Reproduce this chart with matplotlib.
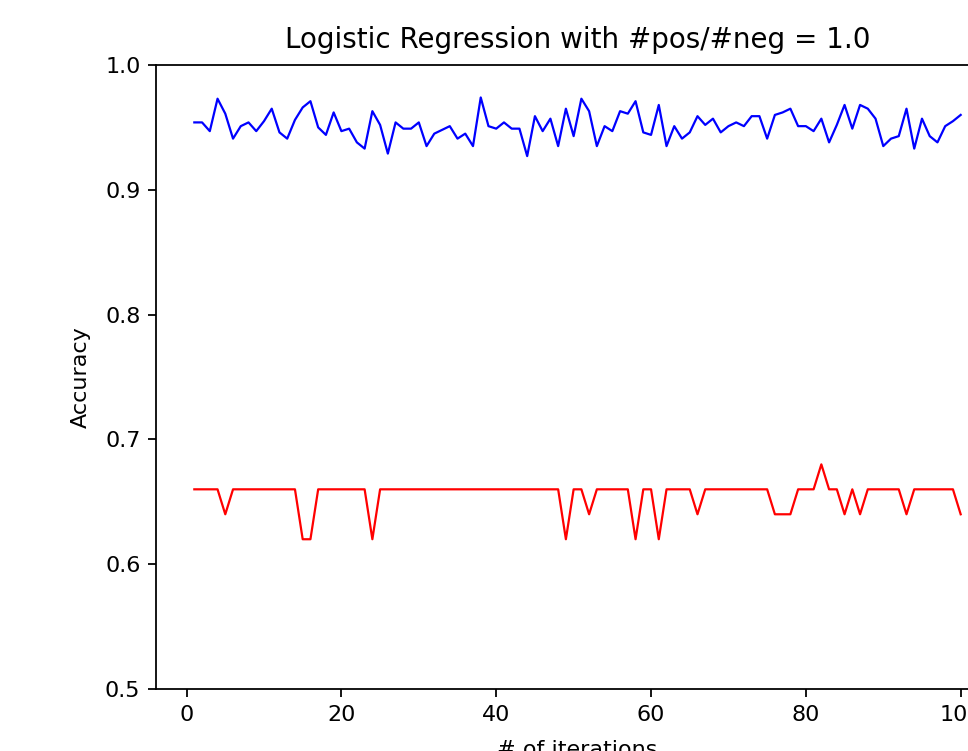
import matplotlib
matplotlib.use('Agg')
import matplotlib.pyplot as plt
import numpy as np

# iteration index
ITERATIONS = list(range(1, 101))

# upper curve (blue)
ACC_BLUE = [
    0.954, 0.954, 0.947, 0.973, 0.961, 0.941, 0.951, 0.954, 0.947, 0.955,
    0.965, 0.946, 0.941, 0.956, 0.966, 0.971, 0.950, 0.944, 0.962, 0.947,
    0.949, 0.938, 0.933, 0.963, 0.952, 0.929, 0.954, 0.949, 0.949, 0.954,
    0.935, 0.945, 0.948, 0.951, 0.941, 0.945, 0.935, 0.974, 0.951, 0.949,
    0.954, 0.949, 0.949, 0.927, 0.959, 0.947, 0.957, 0.935, 0.965, 0.943,
    0.973, 0.963, 0.935, 0.951, 0.947, 0.963, 0.961, 0.971, 0.946, 0.944,
    0.968, 0.935, 0.951, 0.941, 0.946, 0.959, 0.952, 0.957, 0.946, 0.951,
    0.954, 0.951, 0.959, 0.959, 0.941, 0.960, 0.962, 0.965, 0.951, 0.951,
    0.947, 0.957, 0.938, 0.952, 0.968, 0.949, 0.968, 0.965, 0.957, 0.935,
    0.941, 0.943, 0.965, 0.933, 0.957, 0.943, 0.938, 0.951, 0.955, 0.960,
]

# lower curve (red)
ACC_RED = [
    0.66, 0.66, 0.66, 0.66, 0.64, 0.66, 0.66, 0.66, 0.66, 0.66,
    0.66, 0.66, 0.66, 0.66, 0.62, 0.62, 0.66, 0.66, 0.66, 0.66,
    0.66, 0.66, 0.66, 0.62, 0.66, 0.66, 0.66, 0.66, 0.66, 0.66,
    0.66, 0.66, 0.66, 0.66, 0.66, 0.66, 0.66, 0.66, 0.66, 0.66,
    0.66, 0.66, 0.66, 0.66, 0.66, 0.66, 0.66, 0.66, 0.62, 0.66,
    0.66, 0.64, 0.66, 0.66, 0.66, 0.66, 0.66, 0.62, 0.66, 0.66,
    0.62, 0.66, 0.66, 0.66, 0.66, 0.64, 0.66, 0.66, 0.66, 0.66,
    0.66, 0.66, 0.66, 0.66, 0.66, 0.64, 0.64, 0.64, 0.66, 0.66,
    0.66, 0.68, 0.66, 0.66, 0.64, 0.66, 0.64, 0.66, 0.66, 0.66,
    0.66, 0.66, 0.64, 0.66, 0.66, 0.66, 0.66, 0.66, 0.66, 0.64,
]

DPI = 160
fig = plt.figure(figsize=(968 / DPI, 751 / DPI), dpi=DPI)
# axes runs past the right edge, like the cropped original
ax = fig.add_axes([156 / 968, 62 / 751, 843 / 968, 624 / 751])

ax.plot(ITERATIONS, ACC_BLUE, color='b', lw=1)
ax.plot(ITERATIONS, ACC_RED, color='r', lw=1)

ax.set_ylim(0.5, 1.0)
ax.set_title('Logistic Regression with #pos/#neg = 1.0', fontsize=12.5, pad=7.5)
ax.set_xlabel('# of iterations', labelpad=7)
ax.set_ylabel('Accuracy', labelpad=6.5)

fig.savefig('out.png', dpi=DPI)
